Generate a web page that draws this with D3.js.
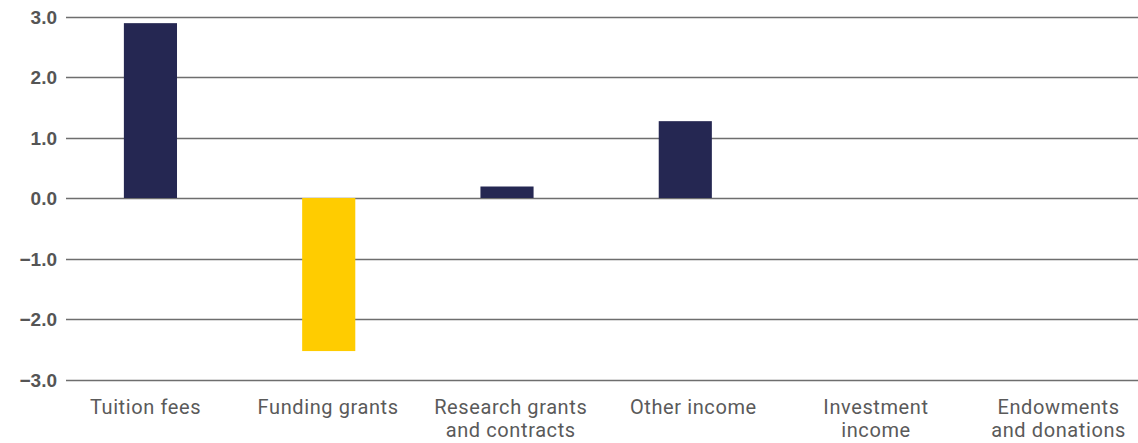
<!DOCTYPE html>
<html><head><meta charset="utf-8">
<script src="https://cdn.jsdelivr.net/npm/d3@7"></script>
<style>body{margin:0;background:#fff;}svg{display:block;}</style>
</head><body>
<svg id="chart" width="1138" height="443"></svg>
<script>
const categories = ["Tuition fees", "Funding grants", "Research grants and contracts", "Other income", "Investment income", "Endowments and donations"];
const labelLines = [["Tuition fees"], ["Funding grants"], ["Research grants", "and contracts"], ["Other income"], ["Investment", "income"], ["Endowments", "and donations"]];
const values = [2.89, -2.53, 0.19, 1.27, 0, 0];
const yTicks = [-3, -2, -1, 0, 1, 2, 3];

const W = 1138, H = 443;
const svg = d3.select("#chart");
const y = d3.scaleLinear().domain([-3, 3]).range([379.5, 16.5]);
const xBar = d3.scaleBand().domain(categories).range([61.3, 1131]).padding(0);
const xLab = d3.scalePoint().domain(categories).range([145.5, 1058.6]);
const barW = xBar.step() * 0.298;

// gridlines
svg.append("g").selectAll("line").data(yTicks).join("line")
  .attr("x1", 66).attr("x2", W)
  .attr("y1", d => Math.round(y(d)) + 0.5).attr("y2", d => Math.round(y(d)) + 0.5)
  .attr("stroke", "#6e6e6e").attr("stroke-width", 1.3);

// y tick labels
svg.append("g").selectAll("text").data(yTicks).join("text")
  .attr("x", 57).attr("y", d => y(d)).attr("dy", "0.38em")
  .attr("text-anchor", "end")
  .attr("font-family", "Liberation Sans, Arial, sans-serif")
  .attr("font-weight", "bold").attr("font-size", 19).attr("fill", "#555")
  .text(d => d3.format(".1f")(d));

// bars
svg.append("g").selectAll("rect").data(categories).join("rect")
  .attr("x", d => xBar(d) + xBar.bandwidth() / 2 - barW / 2)
  .attr("width", barW)
  .attr("y", (d, i) => y(Math.max(0, values[i])))
  .attr("height", (d, i) => Math.abs(y(values[i]) - y(0)))
  .attr("fill", (d, i) => values[i] < 0 ? "#FFCC00" : "#252752");

// x labels
const lg = svg.append("g");
categories.forEach((c, i) => {
  const t = lg.append("text")
    .attr("text-anchor", "middle")
    .attr("font-family", "Roboto, 'Open Sans', sans-serif")
    .attr("font-size", 20).attr("letter-spacing", 0.6).attr("fill", "#5a5a5a");
  labelLines[i].forEach((ln, j) => {
    t.append("tspan").attr("x", 0).attr("y", 414 + j * 23).text(ln);
  });
  const bb = t.node().getBBox();
  let cx = xLab(c);
  if (cx + bb.width / 2 > W - 10) cx = W - 10 - bb.width / 2;
  t.attr("transform", `translate(${cx},0)`);
});
</script>
</body></html>
